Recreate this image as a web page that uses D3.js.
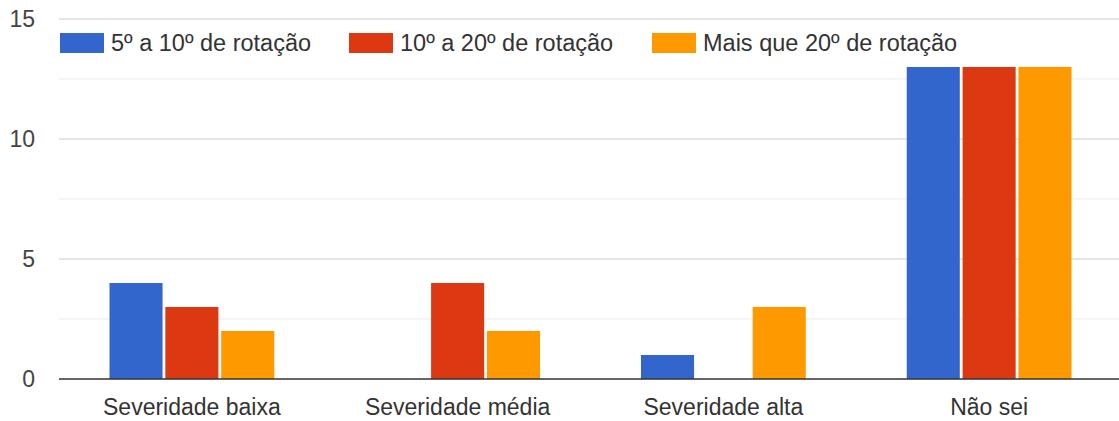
<!DOCTYPE html>
<html><head><meta charset="utf-8">
<script src="https://cdn.jsdelivr.net/npm/d3@7"></script>
<style>body{margin:0;background:#fff;}svg{display:block;font-family:"Liberation Sans", Arial, sans-serif;}</style>
</head><body><svg id="c" width="1119" height="421"></svg>
<script>
const categories = ["Severidade baixa", "Severidade média", "Severidade alta", "Não sei"];
const seriesNames = ["5º a 10º de rotação", "10º a 20º de rotação", "Mais que 20º de rotação"];
const series1 = [4, 0, 1, 13];
const series2 = [3, 4, 0, 13];
const series3 = [2, 2, 3, 13];
const majorTicks = [0, 5, 10, 15];
const minorTicks = [2.5, 7.5, 12.5];
const colors = ["#3366cc", "#dc3912", "#ff9900"];

(function(){
const svg = d3.select("#c");
const pLeft = 59, pRight = 1122, pTop = 19, pBottom = 379;
const x = d3.scaleBand().domain(categories).range([pLeft, pRight]).paddingInner(0.38).paddingOuter(0.19);
const y = d3.scaleLinear().domain([0, 15]).range([pBottom, pTop]);
const x1 = d3.scaleBand().domain([0,1,2]).range([0, x.bandwidth()]).paddingInner(0.05);

svg.append("g").selectAll("line").data(minorTicks).join("line")
  .attr("x1", pLeft).attr("x2", 1119).attr("y1", d=>y(d)).attr("y2", d=>y(d))
  .attr("stroke", "#ebebeb").attr("stroke-width", 1);
svg.append("g").selectAll("line").data(majorTicks.filter(d=>d>0)).join("line")
  .attr("x1", pLeft).attr("x2", 1119).attr("y1", d=>y(d)).attr("y2", d=>y(d))
  .attr("stroke", "#cccccc").attr("stroke-width", 1);

svg.append("g").selectAll("text").data(majorTicks).join("text")
  .attr("x", 35).attr("y", d=>y(d)).attr("dy", "0.36em").attr("text-anchor", "end")
  .attr("font-size", 23).attr("fill", "#444").text(d=>d);

const all = [series1, series2, series3];
const g = svg.append("g");
all.forEach((s, si) => {
  g.selectAll(null).data(s.map((v,i)=>({v, c: categories[i]}))).join("rect")
    .attr("x", d => x(d.c) + x1(si))
    .attr("width", x1.bandwidth())
    .attr("y", d => y(d.v))
    .attr("height", d => y(0) - y(d.v))
    .attr("fill", colors[si]);
});

svg.append("line").attr("x1", pLeft).attr("x2", 1119).attr("y1", pBottom).attr("y2", pBottom)
  .attr("stroke", "#333").attr("stroke-width", 1.5);

svg.append("g").selectAll("text").data(categories).join("text")
  .attr("x", d => x(d) + x.bandwidth()/2).attr("y", 415)
  .attr("text-anchor", "middle").attr("font-size", 23).attr("fill", "#333").text(d=>d);

const legX = [60, 349, 652];
const leg = svg.append("g");
seriesNames.forEach((n, i) => {
  leg.append("rect").attr("x", legX[i]).attr("y", 33).attr("width", 44).attr("height", 20).attr("fill", colors[i]);
  leg.append("text").attr("x", legX[i] + 51).attr("y", 51)
    .attr("font-size", 23.5).attr("fill", "#333").text(n);
});
})();
</script></body></html>
